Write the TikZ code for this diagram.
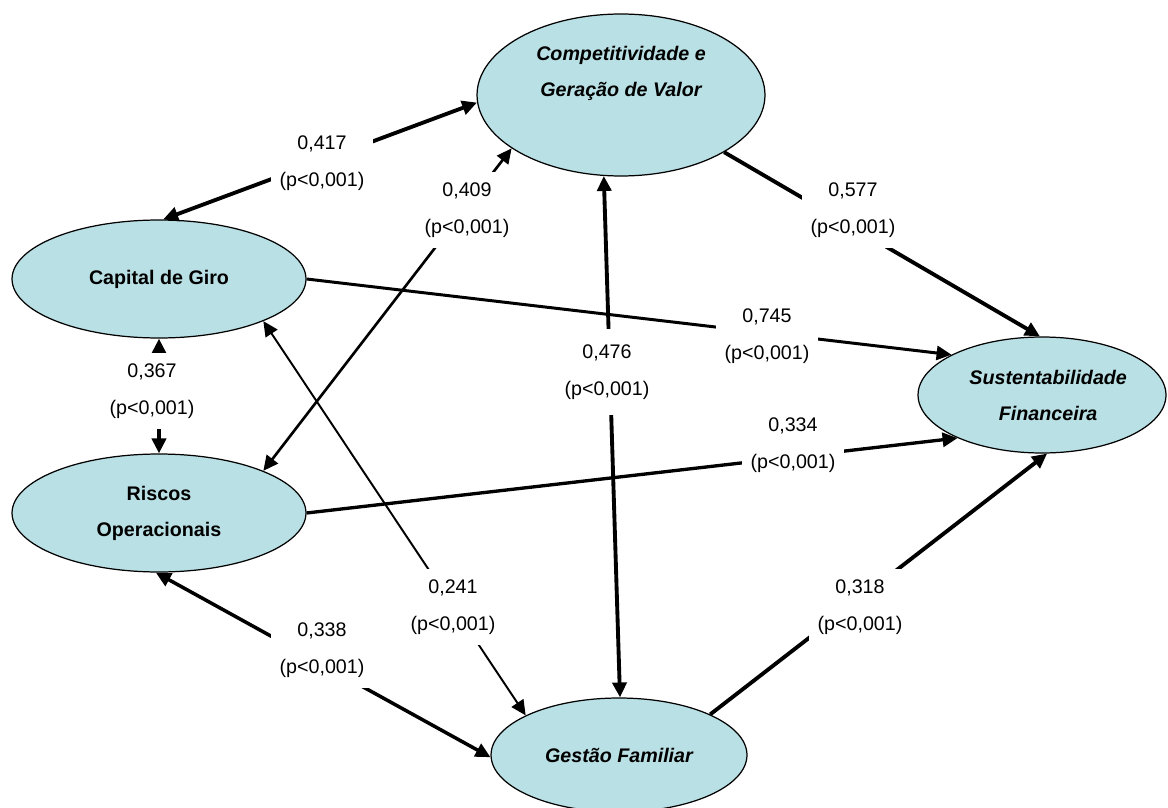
\documentclass[tikz,border=0pt]{standalone}
\usepackage{fontspec}
\setmainfont{Liberation Sans}
\usepackage{xcolor}
\usetikzlibrary{positioning, calc, arrows.meta, shapes.geometric}

\definecolor{latentfill}{RGB}{185,224,228}

\begin{document}
\begin{tikzpicture}[
  x=0.02cm, y=-0.02cm,
  latent/.style={ellipse, draw=black, line width=0.7pt, fill=latentfill,
    inner sep=0pt, align=center, font=\fontsize{11.2}{20.5}\selectfont\bfseries},
  coef/.style={fill=white, inner xsep=5pt, inner ysep=6pt, align=center,
    font=\fontsize{11.2}{21}\selectfont},
  link/.style={-{Triangle[length=8.5pt, width=8pt]}},
  both/.style={{Triangle[length=8.5pt, width=8pt]}-{Triangle[length=8.5pt, width=8pt]}},
]

% ---- 0. page frame (pixel units, y downwards) ----
\useasboundingbox (0,0) rectangle (1168,807);

% ---- 1. latent variables ----
\node[latent, minimum width=5.76cm, minimum height=3.24cm,
  label={[align=center, yshift=0.44cm, font=\fontsize{11.2}{20.5}\selectfont\bfseries\itshape]center:Competitividade e\\Geração de Valor}]
  (cgv) at (621,95) {};
\node[latent, minimum width=5.88cm, minimum height=2.36cm] (cg) at (159,279) {Capital de Giro};
\node[latent, minimum width=5.88cm, minimum height=2.36cm] (ro) at (159,513) {Riscos\\Operacionais};
\node[latent, minimum width=4.96cm, minimum height=2.32cm] (sf) at (1042,395)
  {\hspace*{7pt}\itshape Sustentabilidade\\\hspace*{7pt}\itshape Financeira};
\node[latent, minimum width=5.12cm, minimum height=2.28cm] (gf) at (619,755) {\itshape Gestão Familiar};

% ---- 2. paths between them ----
\draw[both, line width=2.2pt] (cg.86) -- (cgv.183);
\draw[both, line width=1.5pt] (ro.22) -- (cgv.206);
\draw[link, line width=2.2pt] (cgv.331) -- (sf.92);
\draw[link, line width=1.7pt] (cg.0) -- (sf.156);
\draw[both, line width=2.2pt] (cgv.258) -- (gf.89);
\draw[both, line width=2.2pt] (cg.270) -- (ro.90);
\draw[link, line width=1.9pt] (ro.0) -- (sf.207);
\draw[both, line width=1.1pt] (cg.338) -- (gf.157);
\draw[both, line width=2pt] (ro.267) -- (gf.181);
\draw[link, line width=2.2pt] (gf.24) -- (sf.275);

% ---- 3. coefficients ----
\node[coef] (k417) at (322,163) {0,417\\(p<0,001)};
\node[coef] (k409) at (467,210) {0,409\\(p<0,001)};
\node[coef] (k577) at (853,210) {0,577\\(p<0,001)};
\node[coef] (k745) at (767,336) {0,745\\(p<0,001)};
\node[coef, inner ysep=9pt] (k476) at (607,372) {0,476\\(p<0,001)};
\node[coef] (k367) at (152,391) {0,367\\(p<0,001)};
\node[coef] (k334) at (793,445) {0,334\\(p<0,001)};
\node[coef] (k241) at (453,607) {0,241\\(p<0,001)};
\node[coef] (k338) at (322,650) {0,338\\(p<0,001)};
\node[coef] (k318) at (860,607) {0,318\\(p<0,001)};

\end{tikzpicture}
\end{document}
